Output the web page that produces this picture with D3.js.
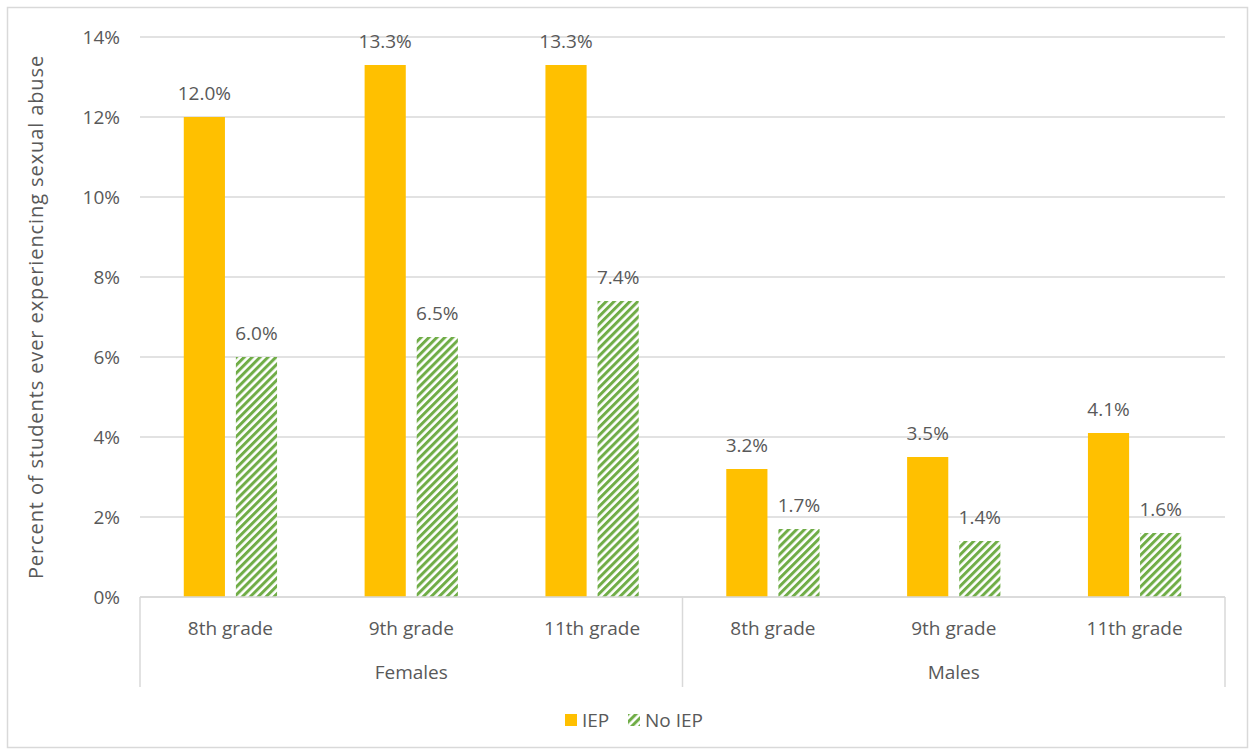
<!DOCTYPE html>
<html>
<head>
<meta charset="utf-8">
<script src="https://cdn.jsdelivr.net/npm/d3@7"></script>
<style>
  body { margin: 0; background: #fff; }
  svg text { font-family: "Open Sans", "Liberation Sans", sans-serif; fill: #595959; }
</style>
</head>
<body>
<svg id="chart" width="1250" height="753"></svg>
<script>
// Share of students who ever experienced sexual abuse, by sex, grade and IEP status
const groups = ["Females", "Males"];
const grades = ["8th grade", "9th grade", "11th grade"];
const iepValues = [12.0, 13.3, 13.3, 3.2, 3.5, 4.1];
const noIepValues = [6.0, 6.5, 7.4, 1.7, 1.4, 1.6];
const yTicks = [0, 2, 4, 6, 8, 10, 12, 14];
const seriesNames = ["IEP", "No IEP"];

const categories = [];
groups.forEach(g => grades.forEach(gr => categories.push({ group: g, grade: gr, key: g + "|" + gr })));
const rows = categories.map((c, i) => ({ ...c, values: [iepValues[i], noIepValues[i]] }));

const svg = d3.select("#chart");
const FS = 19;

// hatch fill for the No IEP series
const defs = svg.append("defs");
const pat = defs.append("pattern")
  .attr("id", "hatch")
  .attr("patternUnits", "userSpaceOnUse")
  .attr("width", 5.6).attr("height", 5.6)
  .attr("patternTransform", "rotate(45)");
pat.append("rect").attr("width", 5.6).attr("height", 5.6).attr("fill", "#fff");
pat.append("rect").attr("width", 3).attr("height", 5.6).attr("fill", "#70ad47");

// outer chart frame
svg.append("rect")
  .attr("x", 7.5).attr("y", 7.5).attr("width", 1240).attr("height", 740)
  .attr("fill", "#fff").attr("stroke", "#d9d9d9").attr("stroke-width", 1.5);

const plot = { left: 140, right: 1225, top: 37, bottom: 597 };

const y = d3.scaleLinear().domain([0, 14]).range([plot.bottom, plot.top]);
const x0 = d3.scaleBand().domain(categories.map(c => c.key)).range([plot.left, plot.right]).paddingInner(0).paddingOuter(0);
const x1 = d3.scaleBand().domain(seriesNames).range([0, x0.bandwidth()]).paddingInner(0.21).paddingOuter(0.84);

// gridlines
svg.append("g")
  .selectAll("line")
  .data(yTicks)
  .join("line")
  .attr("x1", plot.left).attr("x2", plot.right)
  .attr("y1", d => y(d)).attr("y2", d => y(d))
  .attr("stroke", "#d9d9d9").attr("stroke-width", 1.3);

// y axis labels
const yAxis = d3.axisLeft(y).tickValues(yTicks).tickFormat(d => d + "%").tickSize(0).tickPadding(0);
const yg = svg.append("g").attr("transform", `translate(${plot.left - 20},0)`).call(yAxis);
yg.select(".domain").remove();
yg.selectAll("text").attr("font-size", FS).attr("fill", "#595959").attr("dy", "0.35em");

// y axis title
svg.append("text")
  .attr("transform", `translate(36,${(plot.top + plot.bottom) / 2}) rotate(-90)`)
  .attr("text-anchor", "middle")
  .attr("dy", "0.35em")
  .attr("font-size", 20)
  .attr("letter-spacing", 0.9)
  .text("Percent of students ever experiencing sexual abuse");

// bars
const fills = ["#ffc000", "url(#hatch)"];
const catG = svg.append("g").selectAll("g")
  .data(rows)
  .join("g")
  .attr("transform", d => `translate(${x0(d.key)},0)`);

catG.selectAll("rect")
  .data(d => d.values.map((v, i) => ({ v, s: seriesNames[i], i })))
  .join("rect")
  .attr("x", d => x1(d.s))
  .attr("width", x1.bandwidth())
  .attr("y", d => y(d.v))
  .attr("height", d => y(0) - y(d.v))
  .attr("fill", d => fills[d.i]);

// value labels
catG.selectAll("text.val")
  .data(d => d.values.map((v, i) => ({ v, s: seriesNames[i] })))
  .join("text")
  .attr("class", "val")
  .attr("x", d => x1(d.s) + x1.bandwidth() / 2)
  .attr("y", d => y(d.v) - 17)
  .attr("text-anchor", "middle")
  .attr("font-size", FS)
  .text(d => d.v.toFixed(1) + "%");

// category axis line
svg.append("line")
  .attr("x1", plot.left).attr("x2", plot.right)
  .attr("y1", plot.bottom).attr("y2", plot.bottom)
  .attr("stroke", "#d9d9d9").attr("stroke-width", 1.5);

// grade labels
svg.append("g").selectAll("text")
  .data(categories)
  .join("text")
  .attr("x", d => x0(d.key) + x0.bandwidth() / 2)
  .attr("y", 628)
  .attr("dy", "0.35em")
  .attr("text-anchor", "middle")
  .attr("font-size", FS)
  .text(d => d.grade);

// group separators and labels
const groupScale = d3.scaleBand().domain(groups).range([plot.left, plot.right]);
const sepX = [plot.left, ...groups.map(g => groupScale(g) + groupScale.bandwidth())];
svg.append("g").selectAll("line")
  .data(sepX)
  .join("line")
  .attr("x1", d => d).attr("x2", d => d)
  .attr("y1", plot.bottom).attr("y2", 687)
  .attr("stroke", "#d9d9d9").attr("stroke-width", 1.5);

svg.append("g").selectAll("text")
  .data(groups)
  .join("text")
  .attr("x", d => groupScale(d) + groupScale.bandwidth() / 2)
  .attr("y", 672)
  .attr("dy", "0.35em")
  .attr("text-anchor", "middle")
  .attr("font-size", FS)
  .text(d => d);

// legend
const legendItems = [
  { name: seriesNames[0], fill: fills[0], x: 565 },
  { name: seriesNames[1], fill: fills[1], x: 628 }
];
const lg = svg.append("g").selectAll("g")
  .data(legendItems)
  .join("g")
  .attr("transform", d => `translate(${d.x},720)`);
lg.append("rect")
  .attr("x", 0).attr("y", -6).attr("width", 12).attr("height", 12)
  .attr("fill", d => d.fill);
lg.append("text")
  .attr("x", 17).attr("dy", "0.35em")
  .attr("font-size", FS)
  .text(d => d.name);
</script>
</body>
</html>
